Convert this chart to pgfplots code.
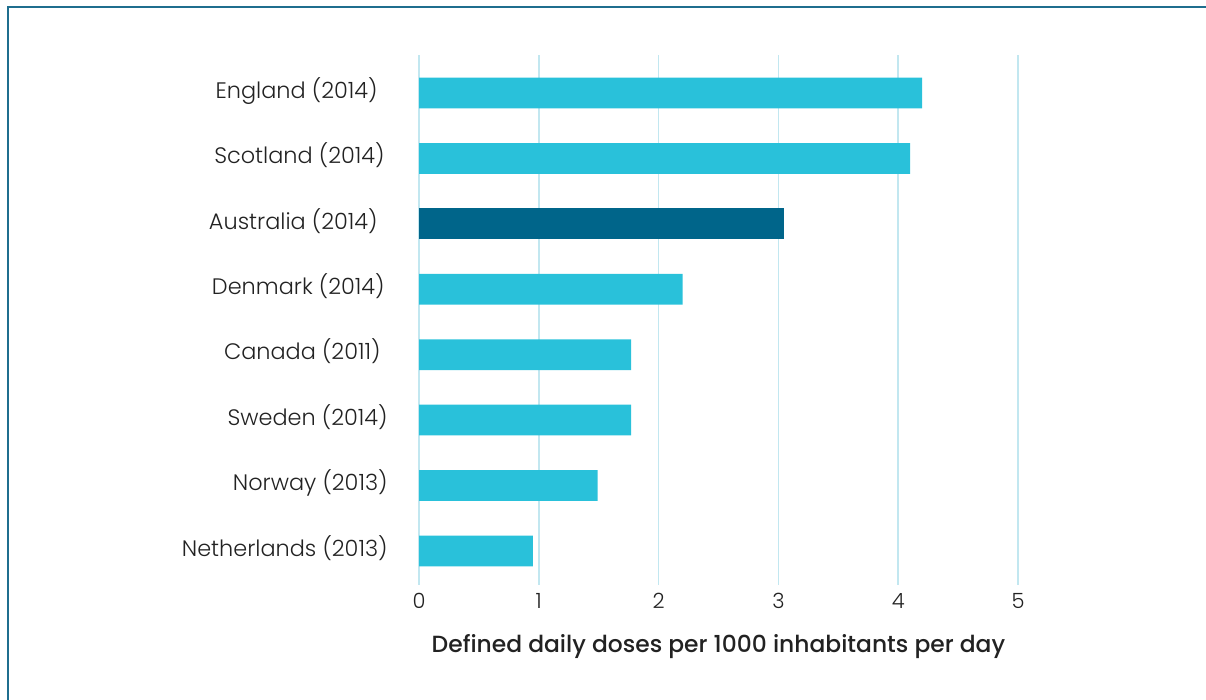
\documentclass[border=0pt]{standalone}
\usepackage{fontspec}
\setmainfont{Poppins Light}[BoldFont={Poppins Medium}]
\usepackage{pgfplots}
\pgfplotsset{compat=1.18}
\definecolor{barlight}{HTML}{29C1DA}
\definecolor{bardark}{HTML}{00658A}
\definecolor{gridc}{HTML}{C2E7F0}
\definecolor{framec}{HTML}{1F6E8E}
\definecolor{txt}{HTML}{222222}
\begin{document}
\begin{tikzpicture}[x=1pt,y=1pt]
\useasboundingbox (0,0) rectangle (603,350);
\draw[framec, line width=1pt] (3.75,0) -- (3.75,346.25) -- (603,346.25);
\begin{axis}[
  at={(209.5pt,57.5pt)}, anchor=south west,
  scale only axis, width=299.5pt, height=265pt,
  xmin=0, xmax=5, ymin=-0.52, ymax=7.58,
  xtick={0,1,2,3,4,5}, ytick={0,1,2,3,4,5,6,7},
  yticklabels={Netherlands (2013), Norway (2013), Sweden (2014), Canada (2011)\rule{3.5pt}{0pt}, Denmark (2014)\rule{1.5pt}{0pt}, Australia (2014)\rule{5pt}{0pt}, Scotland (2014)\rule{1.5pt}{0pt}, England (2014)\rule{5pt}{0pt}},
  axis line style={draw=none},
  major tick length=0pt,
  xmajorgrids, grid style={gridc, line width=0.75pt},
  /pgf/number format/assume math mode=true,
  y tick label style={font=\fontsize{11.2}{13}\selectfont, text=txt, anchor=base east, inner sep=0pt, xshift=-15.5pt, yshift=-2.65pt},
  x tick label style={font=\fontsize{10.5}{12}\selectfont, text=txt, anchor=base, inner sep=0pt, yshift=-11.65pt},
  xlabel={\textbf{Defined daily doses per 1000 inhabitants per day}},
  xlabel style={at={(axis description cs:0.5,0)}, anchor=base, inner sep=0pt, yshift=-34pt, font=\fontsize{11.7}{13}\selectfont, text=txt},
]
\addplot[xbar, bar shift=0pt, bar width=0.47, fill=barlight, draw=none] coordinates {(0.95,0) (1.49,1) (1.77,2) (1.77,3) (2.20,4) (4.10,6) (4.20,7)};
\addplot[xbar, bar shift=0pt, bar width=0.47, fill=bardark, draw=none] coordinates {(3.05,5)};
\end{axis}
\end{tikzpicture}
\end{document}
